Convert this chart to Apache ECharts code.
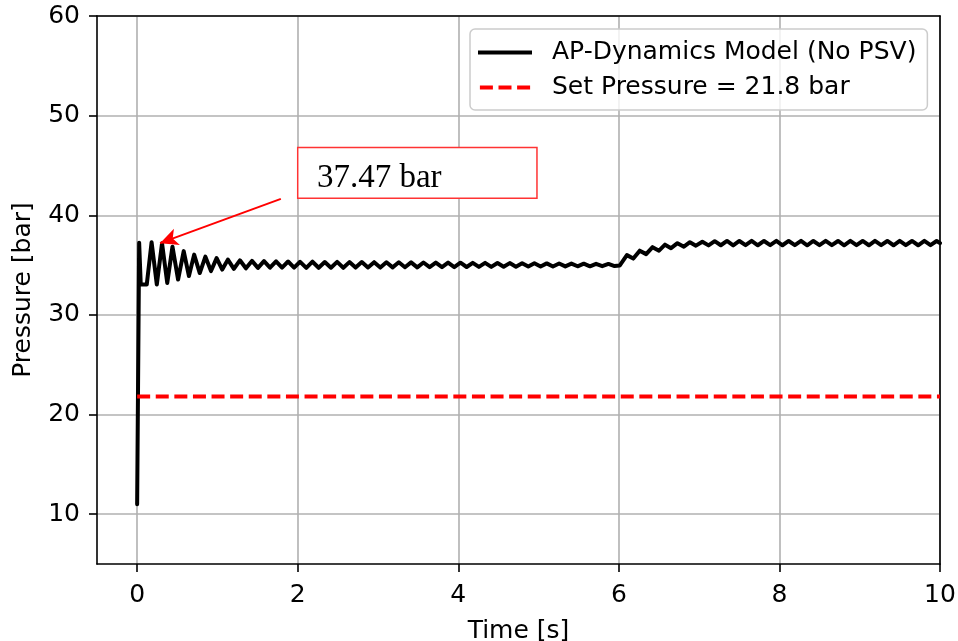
<!DOCTYPE html>
<html>
<head>
<meta charset="utf-8">
<title>Pressure vs time</title>
<script src="https://cdn.jsdelivr.net/npm/echarts@6/dist/echarts.min.js"></script>
<style>
  html, body { margin: 0; padding: 0; background: #fff; }
  #chart { width: 958px; height: 641px; }
</style>
</head>
<body>
<div id="chart"></div>
<script>
// model curve
const timeS = [
  0, 0.025, 0.045, 0.12, 0.18, 0.245, 0.31, 0.375, 0.44, 0.51, 0.58, 0.645, 0.71, 0.78, 0.85, 0.92,
  0.99, 1.06, 1.13, 1.205, 1.28, 1.355, 1.43, 1.505, 1.58, 1.655, 1.73, 1.805, 1.88, 1.955,
  2.03, 2.107, 2.184, 2.261, 2.337, 2.414, 2.491, 2.568, 2.644, 2.721, 2.798, 2.875, 2.952, 3.029,
  3.105, 3.182, 3.259, 3.336, 3.412, 3.489, 3.566, 3.643, 3.72, 3.797, 3.873, 3.95, 4.027, 4.104,
  4.18, 4.257, 4.334, 4.411, 4.488, 4.565, 4.641, 4.718, 4.795, 4.872, 4.948, 5.025, 5.102, 5.179,
  5.256, 5.333, 5.409, 5.486, 5.563, 5.64, 5.716, 5.793, 5.87, 5.947,
  6.01, 6.1, 6.18, 6.26, 6.34, 6.42, 6.5, 6.575, 6.65, 6.73, 6.81, 6.885, 6.96, 7.04,
  7.117, 7.194, 7.27, 7.347, 7.424, 7.501, 7.578, 7.654, 7.731, 7.808, 7.885, 7.962, 8.038, 8.115,
  8.192, 8.269, 8.346, 8.422, 8.499, 8.576, 8.653, 8.73, 8.806, 8.883, 8.96, 9.037, 9.114, 9.19,
  9.267, 9.344, 9.421, 9.498, 9.574, 9.651, 9.728, 9.805, 9.882, 9.958, 10
];
const pressureBar = [
  11.0, 37.25, 33.05, 33.05, 37.3, 33.05, 37.2, 33.2, 36.85, 33.55, 36.4, 33.9, 36.05, 34.2, 35.85, 34.4,
  35.7, 34.55, 35.55, 34.63, 35.48, 34.68, 35.42, 34.72, 35.4, 34.74, 35.38, 34.75, 35.36, 34.75,
  35.33, 34.72, 35.34, 34.73, 35.31, 34.74, 35.32, 34.73, 35.3, 34.75, 35.31, 34.76, 35.29, 34.75,
  35.28, 34.77, 35.28, 34.78, 35.27, 34.77, 35.26, 34.79, 35.25, 34.8, 35.25, 34.8, 35.24, 34.81,
  35.23, 34.82, 35.22, 34.82, 35.21, 34.83, 35.2, 34.84, 35.19, 34.85, 35.18, 34.86, 35.17, 34.86,
  35.16, 34.87, 35.15, 34.88, 35.14, 34.88, 35.13, 34.89, 35.12, 34.9,
  34.95, 36.0, 35.65, 36.45, 36.1, 36.8, 36.45, 37.05, 36.7, 37.2, 36.85, 37.3, 36.95, 37.35,
  36.98, 37.4, 36.99, 37.42, 36.98, 37.42, 37.0, 37.43, 36.99, 37.42, 37.0, 37.43, 36.99, 37.42,
  37.0, 37.43, 36.99, 37.42, 37.0, 37.43, 37.0, 37.42, 36.99, 37.43, 37.0, 37.42, 36.99, 37.43,
  37.0, 37.42, 36.99, 37.43, 37.0, 37.42, 36.99, 37.43, 37.0, 37.42, 37.2
];
const setPressure = 21.8;
const setPressureSpan = [0, 10];
const xTicks = [0, 2, 4, 6, 8, 10];
const yTicks = [10, 20, 30, 40, 50, 60];
const modelName = 'AP-Dynamics Model (No PSV)';
const setName = 'Set Pressure = ' + setPressure + ' bar';
const peakLabel = '37.47 bar';
// callout box and arrow, in data units
const labelBox = [[2.0, 46.8], [4.98, 41.7]];
const arrowFrom = [1.79, 41.65];
const arrowTo = [0.285, 37.2];

const font = 'DejaVu Sans';
const fontSize = 25;
const modelData = timeS.map((t, i) => [t, pressureBar[i]]);
const setData = setPressureSpan.map(t => [t, setPressure]);

const chart = echarts.init(document.getElementById('chart'));

function axisBase(ticks) {
  return {
    type: 'value',
    nameLocation: 'middle',
    nameTextStyle: { fontFamily: font, fontSize: fontSize, color: '#000' },
    axisLine: { show: true, onZero: false, lineStyle: { color: '#000', width: 1.6 } },
    axisTick: { show: true, length: 8, customValues: ticks, lineStyle: { color: '#000', width: 1.6 } },
    axisLabel: { customValues: ticks, fontFamily: font, fontSize: fontSize, color: '#000' },
    splitLine: { show: true, lineStyle: { color: '#b0b0b0', width: 1.6 } }
  };
}

// top / right spines, drawn over the grid lines
function spine(pos, min, max) {
  return {
    type: 'value', position: pos, min: min, max: max, z: 3,
    axisLine: { show: true, onZero: false, lineStyle: { color: '#000', width: 1.6 } },
    axisTick: { show: false }, axisLabel: { show: false }, splitLine: { show: false }
  };
}

const xAxis = axisBase(xTicks);
xAxis.min = -0.5;
xAxis.max = 10;
xAxis.name = 'Time [s]';
xAxis.nameGap = 55;
xAxis.axisLabel.margin = 19;

const yAxis = axisBase(yTicks);
yAxis.min = 5;
yAxis.max = 60;
yAxis.name = 'Pressure [bar]';
yAxis.nameGap = 61;
yAxis.axisLabel.margin = 17;

chart.setOption({
  animation: false,
  backgroundColor: '#fff',
  grid: { left: 97, right: 18, top: 16, bottom: 77, outerBoundsMode: 'none', containLabel: false },
  legend: {
    left: 470, top: 29, orient: 'vertical',
    itemWidth: 54, itemHeight: 4, itemGap: 10,
    padding: [11, 11, 10, 8],
    backgroundColor: 'rgba(255,255,255,0.8)',
    borderColor: '#cccccc', borderWidth: 1.5, borderRadius: 5,
    textStyle: { fontFamily: font, fontSize: fontSize, color: '#000', padding: [0, 0, 0, 15] },
    data: [
      { name: modelName, icon: 'path://M0,0h54v4h-54z' },
      { name: setName, icon: 'path://M0,0h13v4h-13z M18.6,0h13v4h-13z M37.2,0h13v4h-13z' }
    ]
  },
  xAxis: [xAxis, spine('top', -0.5, 10)],
  yAxis: [yAxis, spine('right', 5, 60)],
  series: [
    {
      name: modelName,
      type: 'line',
      data: modelData,
      symbol: 'none',
      showSymbol: false,
      lineStyle: { color: '#000', width: 4, join: 'round', cap: 'round' },
      itemStyle: { color: '#000' },
      emphasis: { disabled: true },
      z: 3,
      markArea: {
        silent: true,
        itemStyle: { color: '#fff', borderColor: '#ff3333', borderWidth: 1.5 },
        label: {
          show: true, position: 'insideLeft', distance: 20, offset: [0, 5],
          formatter: peakLabel, fontFamily: 'Liberation Serif', fontSize: 33, color: '#000'
        },
        data: [[{ coord: labelBox[0] }, { coord: labelBox[1] }]]
      },
      markLine: {
        silent: true,
        symbol: ['none', 'arrow'],
        symbolSize: [13, 18],
        label: { show: false },
        lineStyle: { color: '#ff0000', width: 2, type: 'solid' },
        data: [[{ coord: arrowFrom }, { coord: arrowTo }]]
      }
    },
    {
      name: setName,
      type: 'line',
      data: setData,
      symbol: 'none',
      showSymbol: false,
      lineStyle: { color: '#ff0000', width: 4, type: [13, 5.6] },
      itemStyle: { color: '#ff0000' },
      emphasis: { disabled: true }
    }
  ]
});
</script>
</body>
</html>
